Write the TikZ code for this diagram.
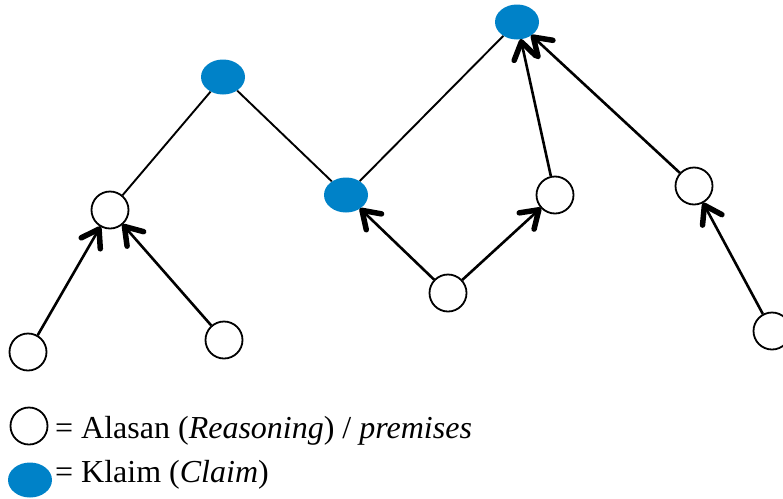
\documentclass[tikz,border=0pt]{standalone}
\usepackage{fontspec}
\setmainfont{Liberation Serif}
\usetikzlibrary{shapes.geometric,calc}
\definecolor{claimblue}{RGB}{0,130,200}
\begin{document}
\begin{tikzpicture}[x=1pt,y=-1pt,
  reason/.style={circle,draw=black,line width=1.8pt,fill=white,minimum size=37pt,inner sep=0pt},
  claim/.style={ellipse,fill=claimblue,minimum width=44pt,minimum height=35pt,inner sep=0pt},
  link/.style={line width=1.9pt},
  support/.style={line width=2.6pt},
  barb/.style={line width=5.5pt,line cap=round,line join=round},
  legend/.style={anchor=base west,font=\fontsize{32}{35}\selectfont,inner sep=0pt}]
\useasboundingbox (0,0) rectangle (783,498);
\node[claim] (c1) at (223,77) {};
\node[claim] (c2) at (346,195) {};
\node[claim] (c3) at (517,22) {};
\node[reason] (r1) at (110,210) {};
\node[reason] (r2) at (28,352) {};
\node[reason] (r3) at (224,340) {};
\node[reason] (r4) at (448,293) {};
\node[reason] (r5) at (555,195) {};
\node[reason] (r6) at (694,186) {};
\node[reason] (r7) at (772,331) {};
\draw[link] (r1) -- (c1);
\draw[link] (c1) -- (c2);
\draw[link] (c2) -- (c3);
\foreach \s/\t [count=\i] in {r2/r1,r3/r1,r4/c2,r4/r5,r5/c3,r6/c3,r7/r6}{
  \draw[support] (\s) -- (\t) coordinate[pos=1] (tip\i);
  \draw[barb] ($(tip\i)!22pt!30:(\s)$) -- ($(tip\i)!2.5pt!(\s)$) -- ($(tip\i)!22pt!-30:(\s)$);
}
\node[reason] (lr) at (29,426) {};
\node[claim] (lc) at (30,480) {};
\node[legend] (lt1) at (55,438) {= Alasan (\textit{Reasoning}) / \textit{premises}};
\node[legend] (lt2) at (55,482) {= Klaim (\textit{Claim})};
\end{tikzpicture}
\end{document}
